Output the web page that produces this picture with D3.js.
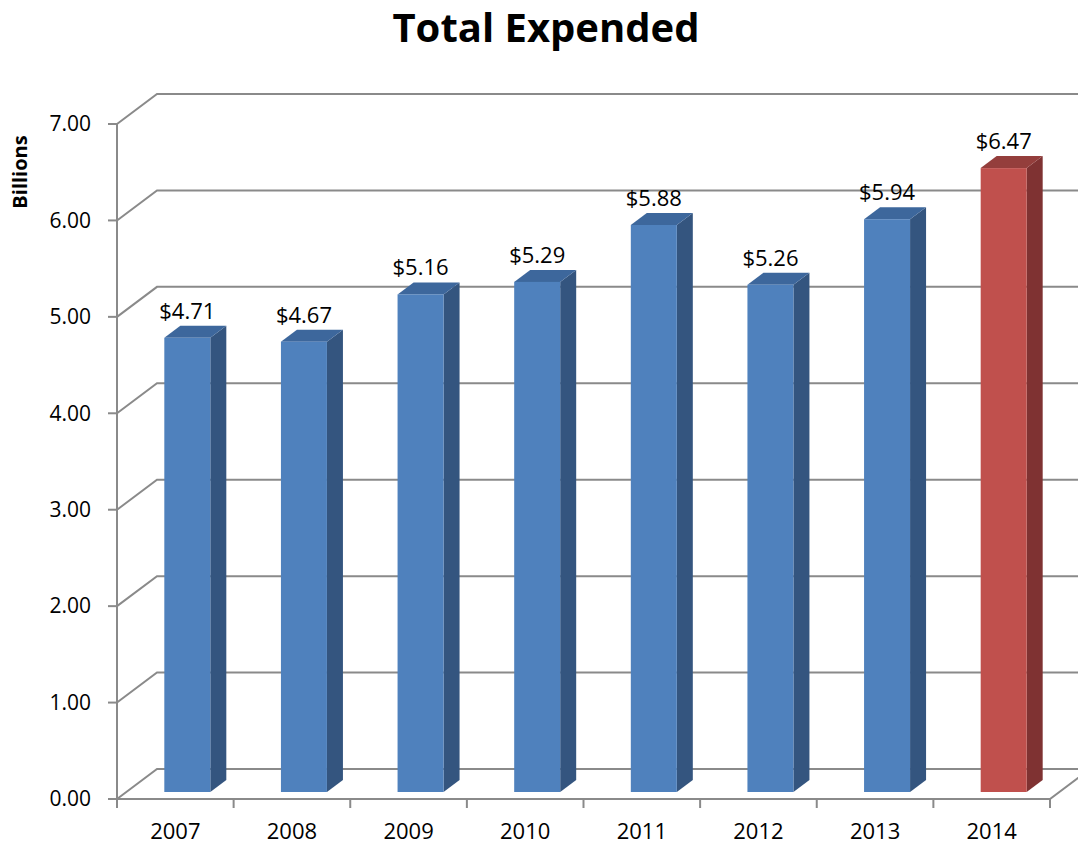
<!DOCTYPE html>
<html>
<head>
<meta charset="utf-8">
<script src="https://cdn.jsdelivr.net/npm/d3@7"></script>
<style>
  body { margin: 0; background: #fff; }
  text { font-family: "Open Sans", "Liberation Sans", sans-serif; fill: #000; }
</style>
</head>
<body>
<svg id="chart" width="1078" height="845"></svg>
<script>
// chart data
var years = ["2007", "2008", "2009", "2010", "2011", "2012", "2013", "2014"];
var spent = [4.71, 4.67, 5.16, 5.29, 5.88, 5.26, 5.94, 6.47];
var yTicks = [0, 1, 2, 3, 4, 5, 6, 7];
var highlight = ["2014"];

var svg = d3.select("#chart");

var plotLeft = 117, plotRight = 1050, plotTop = 124, plotBottom = 799;
// 3d offsets: back wall, bar setback and bar depth
var wallDx = 40, wallDy = -30;
var setDx = 9, setDy = -7;
var depthDx = 16, depthDy = -12;
var barW = 46;

var x = d3.scaleBand().domain(years).range([plotLeft, plotRight]);
var y = d3.scaleLinear().domain([0, 7]).range([plotBottom, plotTop]);

var grid = "#8a8a8a";

// gridlines on the back wall + diagonals on the side
var g = svg.append("g").attr("stroke", grid).attr("stroke-width", 2).attr("fill", "none");
yTicks.forEach(function(t) {
    g.append("path")
        .attr("d", "M" + plotLeft + "," + y(t) + "L" + (plotLeft + wallDx) + "," + (y(t) + wallDy) + "H" + 1080);
});
// floor
g.append("path")
    .attr("d", "M" + plotLeft + "," + plotBottom + "H" + plotRight + "L" + (plotRight + wallDx) + "," + (plotBottom + wallDy));
// front vertical axis
g.append("path").attr("d", "M" + plotLeft + "," + plotTop + "V" + plotBottom);

// y ticks
svg.append("g").attr("stroke", grid).attr("stroke-width", 2)
    .selectAll("line").data(yTicks).enter().append("line")
    .attr("x1", plotLeft - 9).attr("x2", plotLeft)
    .attr("y1", function(d) { return y(d); })
    .attr("y2", function(d) { return y(d); });

// x ticks at band edges
var edges = years.map(function(d) { return x(d); }).concat([plotRight]);
svg.append("g").attr("stroke", grid).attr("stroke-width", 2)
    .selectAll("line").data(edges).enter().append("line")
    .attr("x1", function(d) { return d; }).attr("x2", function(d) { return d; })
    .attr("y1", plotBottom).attr("y2", plotBottom + 9);

// y tick labels
svg.append("g").selectAll("text").data(yTicks).enter().append("text")
    .attr("x", 91).attr("y", function(d) { return y(d); })
    .attr("dy", "0.35em")
    .attr("text-anchor", "end")
    .style("font-size", "21px")
    .text(function(d) { return d3.format(".2f")(d); });

// category labels
svg.append("g").selectAll("text").data(years).enter().append("text")
    .attr("x", function(d) { return x(d) + x.bandwidth() / 2; })
    .attr("y", 839)
    .attr("text-anchor", "middle")
    .style("font-size", "22px")
    .text(function(d) { return d; });

// bars
var colors = {
    blue: { front: "#4f81bd", side: "#34557f", top: "#3d679c" },
    red: { front: "#c0504d", side: "#7f3232", top: "#943e3c" }
};

var bars = svg.selectAll("g.bar")
    .data(years.map(function(d, i) { return { year: d, value: spent[i] }; }))
  .enter().append("g")
    .attr("class", "bar");

bars.each(function(d) {
    var c = highlight.indexOf(d.year) >= 0 ? colors.red : colors.blue;
    var x0 = x(d.year) + x.bandwidth() / 2 - barW / 2 + setDx + 3,
        x1 = x0 + barW,
        y0 = y(0) + setDy,
        y1 = y(d.value) + setDy;
    var b = d3.select(this);
    // side face
    b.append("path").attr("fill", c.side)
        .attr("d", "M" + x1 + "," + y0 + "L" + (x1 + depthDx) + "," + (y0 + depthDy) +
            "L" + (x1 + depthDx) + "," + (y1 + depthDy) + "L" + x1 + "," + y1 + "Z");
    // top face
    b.append("path").attr("fill", c.top)
        .attr("d", "M" + x0 + "," + y1 + "L" + (x0 + depthDx) + "," + (y1 + depthDy) +
            "L" + (x1 + depthDx) + "," + (y1 + depthDy) + "L" + x1 + "," + y1 + "Z");
    // front face
    b.append("rect").attr("fill", c.front)
        .attr("x", x0).attr("y", y1)
        .attr("width", barW).attr("height", y0 - y1);
    // value label
    b.append("text")
        .attr("x", (x0 + x1) / 2)
        .attr("y", y1 + depthDy - 7)
        .attr("text-anchor", "middle")
        .style("font-size", "22px")
        .text("$" + d3.format(".2f")(d.value));
});

// title
svg.append("text")
    .attr("x", 546).attr("y", 42)
    .attr("text-anchor", "middle")
    .style("font-size", "40px")
    .style("font-weight", "bold")
    .text("Total Expended");

// axis title
svg.append("text")
    .attr("transform", "translate(27,172) rotate(-90)")
    .attr("text-anchor", "middle")
    .style("font-size", "20px")
    .style("font-weight", "bold")
    .text("Billions");
</script>
</body>
</html>
